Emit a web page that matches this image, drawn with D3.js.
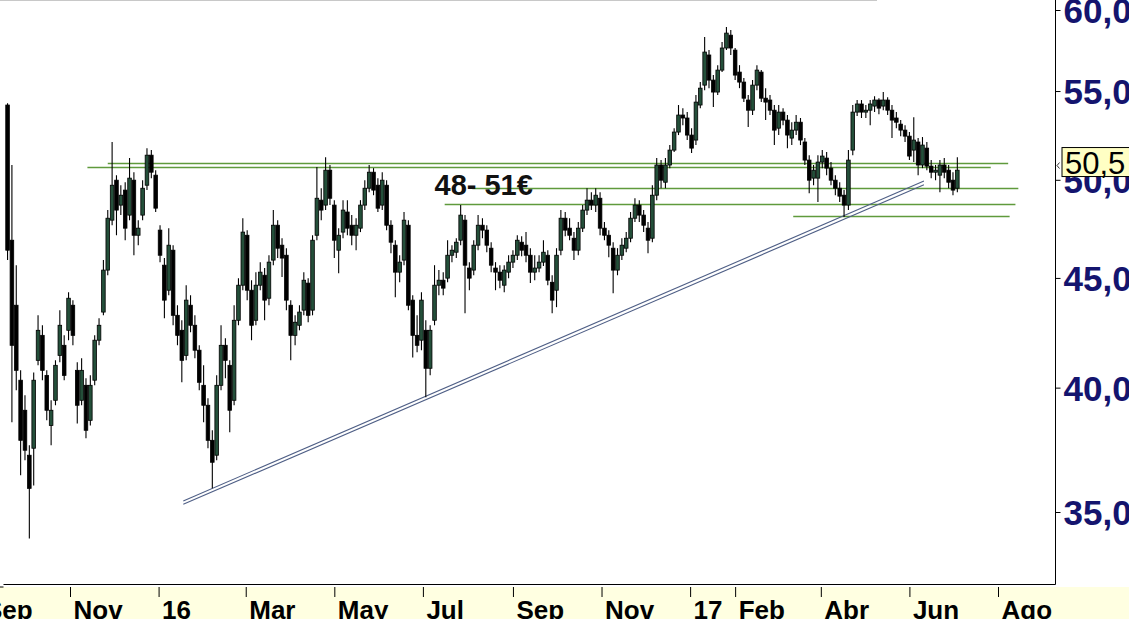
<!DOCTYPE html>
<html><head><meta charset="utf-8">
<script src="https://cdn.jsdelivr.net/npm/d3@7"></script>
<style>html,body{margin:0;padding:0;background:#fff;overflow:hidden}svg{display:block}</style>
</head><body>
<svg id="chart" width="1129" height="619"></svg>
<script>
// ---------- data ----------
const startDate = "2015-09-19";   // first candle
const stepDays = 3;               // calendar days between candles
const opens = [54.18,46.86,43.70,40.32,39.04,37.20,37.48,41.19,42.31,40.53,
38.41,39.46,41.41,41.86,42.54,43.70,40.75,39.46,40.10,38.62,
40.32,42.09,43.38,45.38,47.88,49.98,48.66,49.45,48.14,49.98,
47.11,48.14,49.71,51.34,50.25,47.37,45.62,44.41,46.36,43.23,
42.54,41.41,43.70,42.77,41.64,40.10,39.25,37.80,37.20,40.10,
41.86,40.97,39.46,43.00,44.65,47.11,44.41,43.00,44.65,45.13,
44.03,45.87,47.62,46.61,46.11,43.70,42.31,42.77,43.47,44.75,
43.47,47.11,48.92,48.66,50.52,48.66,46.36,47.27,48.30,47.62,
47.11,47.47,48.66,49.55,50.41,49.71,48.66,49.71,47.62,46.61,
45.28,45.87,47.62,43.94,42.31,42.09,42.54,40.84,43.00,44.65,
44.89,44.99,46.11,46.26,46.86,47.88,45.48,45.38,46.61,47.62,
47.37,46.46,45.48,45.28,44.65,45.28,45.77,46.11,46.76,46.61,
46.11,45.28,45.48,45.77,46.11,44.79,44.41,46.36,47.98,47.47,
46.96,46.36,47.47,48.40,48.92,48.66,49.02,47.47,47.11,46.46,
45.38,46.11,46.46,46.96,47.98,48.66,48.14,47.47,46.96,49.18,
50.80,49.87,50.80,51.62,52.63,53.60,53.43,52.46,52.18,54.18,
55.35,57.17,55.65,54.94,56.25,57.60,58.40,57.47,56.13,55.53,
54.47,53.88,55.35,56.13,54.58,54.47,53.88,52.85,53.77,53.31,
52.29,52.74,53.19,52.07,51.07,50.09,50.09,50.96,51.18,50.63,
49.98,49.55,49.18,48.66,51.62,53.77,54.24,53.77,53.88,54.12,
54.47,54.12,54.47,53.88,53.43,53.08,52.74,52.40,51.62,52.07,
50.80,51.73,50.74,50.41,50.25,50.80,50.52,49.98,49.55];
const highs = [54.29,50.80,45.62,40.75,39.67,37.60,40.66,43.23,42.77,40.75,
39.46,41.19,43.47,42.31,44.31,43.94,41.10,41.28,40.41,40.53,
42.31,43.09,45.87,48.40,52.07,50.25,49.71,49.87,51.18,50.41,
47.88,49.98,51.73,51.62,50.52,47.62,45.97,47.47,46.61,43.70,
43.00,44.65,44.17,43.23,41.86,40.97,39.55,38.21,40.53,42.77,
42.18,41.19,43.70,44.99,47.98,47.37,44.89,45.28,45.77,45.48,
46.11,48.40,47.88,46.96,46.46,43.94,43.23,43.70,45.28,44.99,
47.11,50.69,49.55,51.23,50.80,48.92,47.47,48.92,48.92,48.14,
47.98,48.92,49.98,50.80,50.63,50.09,50.41,49.98,47.88,46.86,
46.11,48.30,47.88,44.17,43.23,44.31,43.00,42.77,45.62,45.38,
45.28,46.86,46.61,46.96,48.66,48.14,45.77,46.86,48.14,47.98,
47.62,46.76,45.77,45.62,45.62,46.11,46.36,47.11,47.06,47.27,
46.46,46.11,46.11,46.86,46.36,45.13,46.46,48.40,48.30,47.98,
47.27,47.78,48.66,49.55,49.34,49.55,49.34,47.78,47.37,46.76,
46.46,46.96,47.27,48.30,49.02,48.92,48.40,47.78,49.71,51.18,
51.07,51.18,51.90,52.85,54.18,54.00,53.77,52.85,54.76,55.53,
58.28,57.47,55.95,56.55,57.97,58.91,58.72,57.60,56.55,55.77,
54.76,55.65,56.55,56.25,55.17,54.76,54.18,54.18,54.00,53.60,
53.19,53.60,53.43,52.29,51.34,50.80,51.34,51.62,51.51,50.96,
50.25,49.87,49.45,51.62,54.18,54.47,54.47,54.18,54.47,54.70,
54.58,54.94,54.64,54.18,53.77,53.31,53.02,52.63,53.48,52.29,
52.35,52.07,51.07,50.80,51.07,51.18,50.80,50.41,51.23];
const lows = [45.87,38.54,39.89,36.41,37.00,34.02,36.01,40.97,40.32,38.62,
37.60,39.25,41.10,40.32,42.09,41.86,38.49,39.25,37.88,38.41,
40.10,41.86,43.23,45.13,47.62,47.11,48.14,46.86,47.88,46.11,
46.61,47.88,49.45,50.09,48.30,45.77,43.09,44.17,42.77,41.86,
40.23,41.19,42.45,41.28,39.89,38.54,37.48,35.90,37.00,39.89,
40.41,38.13,39.25,42.77,44.41,43.94,42.09,42.77,44.41,43.00,
43.70,45.62,45.97,45.04,43.47,41.19,41.86,42.54,43.23,42.91,
43.23,46.86,47.88,48.40,48.66,45.97,45.23,46.96,47.11,46.61,
46.36,47.27,48.40,49.34,49.18,48.30,48.40,47.37,46.21,44.08,
44.79,45.62,43.47,41.32,41.55,41.64,39.59,40.53,42.77,44.17,
44.17,44.79,45.77,45.97,46.61,43.33,44.41,45.13,46.36,46.96,
46.26,45.28,44.41,44.51,44.31,44.99,45.48,45.87,46.06,45.77,
44.75,44.89,45.28,45.58,44.65,43.33,43.61,46.11,47.06,46.86,
45.87,46.11,47.27,48.14,48.40,48.30,47.11,46.86,46.01,44.27,
45.13,45.87,46.26,46.76,47.78,47.78,47.27,46.21,46.76,48.92,
49.55,49.55,50.63,51.51,52.46,53.02,52.18,51.46,51.90,54.00,
55.05,55.17,54.06,54.76,56.13,57.47,57.17,55.65,55.17,54.35,
52.91,53.60,55.05,54.35,53.31,53.60,51.90,52.46,53.02,51.73,
51.90,52.46,51.90,50.80,49.29,49.71,48.82,50.63,50.25,49.71,
49.18,48.82,48.04,48.40,51.34,53.54,53.43,53.43,53.02,53.77,
53.65,53.88,53.60,52.29,52.85,52.40,52.07,51.07,50.96,50.25,
50.63,50.52,50.09,49.98,49.34,50.09,49.55,49.18,49.34];
const closes = [46.36,41.86,40.75,37.80,37.40,35.90,40.32,42.54,40.75,39.04,
39.04,40.97,42.77,40.53,44.03,42.31,39.25,40.75,38.21,40.10,
42.09,42.77,45.38,47.98,49.71,48.40,49.18,47.47,50.09,47.11,
47.47,49.55,51.34,50.41,48.50,46.11,43.94,46.61,43.23,42.31,
41.19,43.94,42.77,41.64,40.23,39.25,37.80,36.92,40.10,41.86,
41.19,39.04,43.00,44.65,47.27,44.41,42.77,44.65,45.28,43.94,
45.77,47.62,46.46,45.97,43.94,42.31,42.91,43.38,44.89,43.23,
46.86,49.02,48.40,50.52,49.02,46.86,47.11,48.40,47.47,47.11,
47.62,48.66,49.55,50.41,49.45,48.50,49.98,47.62,46.76,45.28,
45.77,47.88,43.70,42.31,41.86,43.94,40.84,42.54,44.65,44.89,
44.51,46.11,46.36,46.76,48.14,45.62,44.99,46.61,47.62,47.37,
46.61,45.62,45.28,44.89,45.38,45.77,46.11,46.86,46.36,46.11,
45.28,45.48,45.77,46.26,44.89,43.94,46.11,47.98,47.37,47.11,
46.36,47.47,48.40,48.92,48.66,49.18,47.47,47.11,46.61,45.38,
46.11,46.61,46.96,47.98,48.66,48.14,47.62,46.86,49.18,50.80,
49.98,50.80,51.62,52.63,53.60,53.43,52.46,51.73,54.35,55.17,
57.35,55.65,54.94,56.25,57.60,58.53,57.60,55.95,55.53,54.58,
53.88,55.35,56.25,54.58,54.35,53.88,52.74,53.77,53.31,52.46,
52.74,53.19,52.18,51.07,49.98,50.52,50.96,51.29,50.63,49.98,
49.55,49.13,48.66,51.07,53.77,54.24,53.77,53.88,54.24,54.47,
54.00,54.47,53.88,53.31,53.19,52.74,52.40,51.29,52.18,50.80,
51.90,50.74,50.41,50.52,50.80,50.41,49.87,49.45,50.52];

const lastLabel = "50,5";
const lastPrice = 50.5;
const yTicks = [35, 40, 45, 50, 55, 60];
const yTickLabels = ["35,0", "40,0", "45,0", "50,0", "55,0", "60,0"];
const xTickDates = ["2015-09-01","2015-11-01","2016-01-01","2016-03-01","2016-05-01","2016-07-01",
                    "2016-09-01","2016-11-01","2017-01-01","2017-02-01","2017-04-01","2017-06-01","2017-08-01"];
const xTickLabels = ["Sep","Nov","16","Mar","May","Jul","Sep","Nov","17","Feb","Abr","Jun","Ago"];

const levelPrices = [50.90, 50.69, 49.56, 48.72, 48.09];
const levelStarts = ["2015-11-27","2015-11-13","2016-08-04","2016-07-16","2017-03-13"];
const levelEnds   = ["2017-08-08","2017-07-27","2017-08-15","2017-08-13","2017-08-09"];

const trendUpper = [["2016-01-18", 35.42], ["2017-06-11", 49.93]];
const trendLower = [["2016-01-18", 35.29], ["2017-06-11", 49.73]];

const noteText = "48- 51€";
const noteDate = "2016-07-09";
const notePrice = 49.2;

// ---------- chart ----------
const W = 1129, H = 619;
const plotRight = 1055.5, plotBottom = 584.5, plotLeft = 3.5;
const parse = d3.utcParse("%Y-%m-%d");
const FONT = "'Liberation Sans', Arial, Helvetica, sans-serif";

const x = d3.scaleUtc()
  .domain([Date.UTC(2015, 10, 1), Date.UTC(2017, 7, 1)])
  .range([70, 998]);
const y = d3.scaleLog().domain([35, 60]).range([512, 10]);

const svg = d3.select("#chart");
svg.append("rect").attr("width", W).attr("height", H).attr("fill", "#fff");

// bottom yellow band
svg.append("rect").attr("x", 0).attr("y", plotBottom + 2.5).attr("width", W)
  .attr("height", H - plotBottom - 2.5).attr("fill", "#ffffe1");

// top gray line
svg.append("line").attr("x1", 0).attr("x2", 877).attr("y1", 0.5).attr("y2", 0.5)
  .attr("stroke", "#c8c8c8");

const clipId = "plotclip";
svg.append("clipPath").attr("id", clipId).append("rect")
  .attr("x", plotLeft).attr("y", 0).attr("width", plotRight - plotLeft).attr("height", plotBottom);
const plot = svg.append("g").attr("clip-path", `url(#${clipId})`);

// horizontal support levels
plot.selectAll("line.level").data(levelPrices).join("line")
  .attr("class", "level")
  .attr("x1", (d, i) => x(parse(levelStarts[i])))
  .attr("x2", (d, i) => x(parse(levelEnds[i])))
  .attr("y1", d => Math.round(y(d)) + 0.5)
  .attr("y2", d => Math.round(y(d)) + 0.5)
  .attr("stroke", "#5f9a3c").attr("stroke-width", 1.3);

// trend lines (double)
const tl = d3.line().x(d => x(parse(d[0]))).y(d => y(d[1]));
[trendUpper, trendLower].forEach(t => {
  plot.append("path").attr("d", tl(t)).attr("fill", "none")
    .attr("stroke", "#4f5f86").attr("stroke-width", 1.1);
});

// candles
const t0 = parse(startDate);
const candles = opens.map((o, i) => ({
  date: d3.utcDay.offset(t0, i * stepDays),
  o, h: highs[i], l: lows[i], c: closes[i]
}));
const bw = 3.6;
const cg = plot.append("g");
cg.selectAll("line.wick").data(candles).join("line")
  .attr("class", "wick")
  .attr("x1", d => x(d.date)).attr("x2", d => x(d.date))
  .attr("y1", d => y(d.h)).attr("y2", d => y(d.l))
  .attr("stroke", "#000").attr("stroke-width", 1.1);
cg.selectAll("rect.body").data(candles).join("rect")
  .attr("class", "body")
  .attr("x", d => x(d.date) - bw / 2)
  .attr("width", bw)
  .attr("y", d => y(Math.max(d.o, d.c)))
  .attr("height", d => Math.max(1, Math.abs(y(d.o) - y(d.c))))
  .attr("fill", d => d.c >= d.o ? "#244f3a" : "#000")
  .attr("stroke", "#000").attr("stroke-width", 0.8);

// annotation
svg.append("text").attr("x", x(parse(noteDate))).attr("y", y(notePrice))
  .attr("font-family", FONT).attr("font-weight", "bold").attr("font-size", 29)
  .attr("fill", "#111").text(noteText);

// frame lines
svg.append("line").attr("x1", plotLeft).attr("x2", plotRight)
  .attr("y1", plotBottom).attr("y2", plotBottom).attr("stroke", "#000");
svg.append("line").attr("x1", 0).attr("x2", plotLeft)
  .attr("y1", plotBottom + 2.5).attr("y2", plotBottom + 2.5).attr("stroke", "#000");
svg.append("line").attr("x1", plotRight).attr("x2", plotRight)
  .attr("y1", 0).attr("y2", plotBottom).attr("stroke", "#000");

// x axis
const xAxis = d3.axisBottom(x)
  .tickValues(xTickDates.map(parse))
  .tickFormat((d, i) => xTickLabels[i])
  .tickSize(10).tickSizeOuter(0);
const gx = svg.append("g").attr("transform", `translate(0,${plotBottom + 2.5})`).call(xAxis);
gx.select(".domain").remove();
gx.selectAll(".tick line").attr("stroke", "#000");
gx.selectAll(".tick text")
  .attr("x", 3).attr("y", 32).attr("dy", 0)
  .attr("text-anchor", "start")
  .attr("font-family", FONT).attr("font-weight", "bold").attr("font-size", 26)
  .attr("fill", "#000");

// y axis
const yAxis = d3.axisRight(y)
  .tickValues(yTicks)
  .tickFormat((d, i) => yTickLabels[i])
  .tickSize(5).tickSizeOuter(0);
const gy = svg.append("g").attr("transform", `translate(${plotRight},0)`).call(yAxis);
gy.select(".domain").remove();
gy.selectAll(".tick line").attr("stroke", "#000");
gy.selectAll(".tick text")
  .attr("x", 8).attr("dy", "0.36em")
  .attr("font-family", FONT).attr("font-weight", "bold").attr("font-size", 35)
  .attr("fill", "#14146e");

// last price box
const ly = y(lastPrice);
svg.append("path")
  .attr("d", `M${plotRight + 4},${ly - 8} L${plotRight + 1.5},${ly - 5} L${plotRight + 4},${ly - 2}`)
  .attr("fill", "none").attr("stroke", "#000").attr("stroke-width", 0.8);
svg.append("rect").attr("x", 1062).attr("y", ly - 23).attr("width", 80).attr("height", 29)
  .attr("fill", "#ffffc4").attr("stroke", "#000").attr("stroke-width", 1);
svg.append("text").attr("x", 1065).attr("y", ly + 3)
  .attr("font-family", FONT).attr("font-size", 31).attr("fill", "#000").text(lastLabel);
</script>
</body></html>
